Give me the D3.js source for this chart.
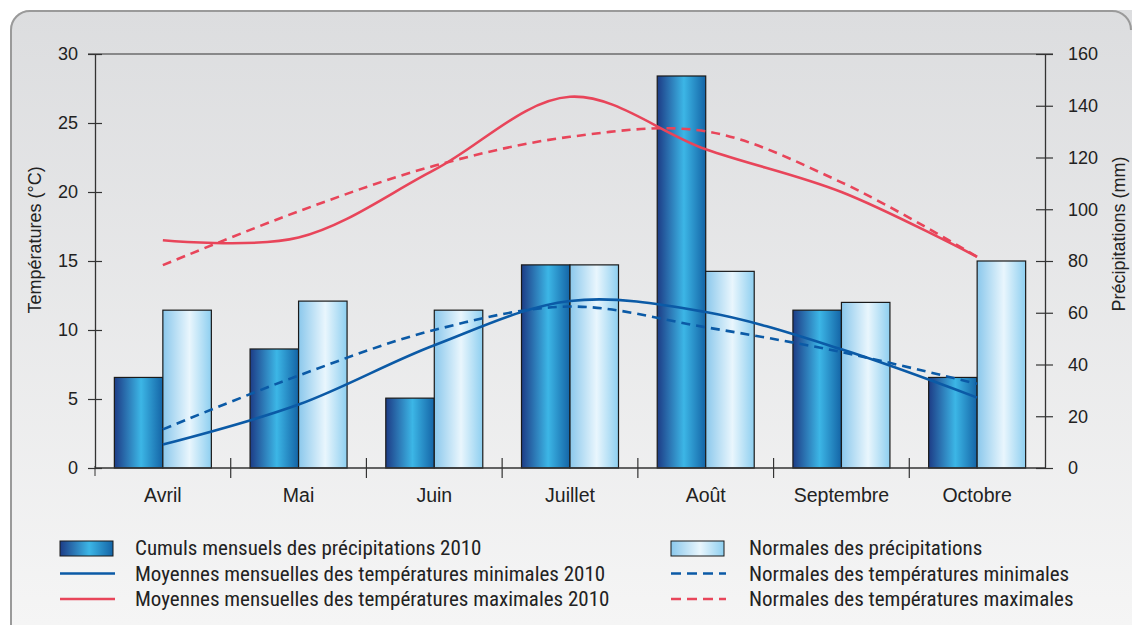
<!DOCTYPE html>
<html>
<head>
<meta charset="utf-8">
<script src="https://cdn.jsdelivr.net/npm/d3@7"></script>
<style>
  body { margin: 0; background: #fff; }
  svg { display: block; }
  text { font-family: "Liberation Sans", Arial, sans-serif; fill: #222; }
  .legend text { font-family: "Liberation Sans Narrow", "Roboto Condensed", "Liberation Sans", sans-serif; }
</style>
</head>
<body>
<svg id="chart" width="1132" height="625"></svg>
<script>
const months = ['Avril', 'Mai', 'Juin', 'Juillet', 'Août', 'Septembre', 'Octobre'];
const precip2010 = [35, 46, 27, 78.5, 151.5, 61, 35];
const precipNormal = [61, 64.5, 61, 78.5, 76, 64, 80];
const tMin2010 = [1.7, 4.6, 8.9, 12.1, 11.3, 8.6, 5.1];
const tMinNormal = [2.8, 6.7, 10.0, 11.7, 10.2, 8.4, 6.1];
const tMax2010 = [16.5, 16.7, 21.6, 26.9, 23.1, 20.0, 15.3];
const tMaxNormal = [14.7, 18.6, 21.9, 24.0, 24.4, 20.7, 15.3];
const tempTicks = [0, 5, 10, 15, 20, 25, 30];
const precipTicks = [0, 20, 40, 60, 80, 100, 120, 140, 160];

const svg = d3.select('#chart');
const width = +svg.attr('width');
const height = +svg.attr('height');

const blue = '#0b5aa6';
const red = '#e8455a';

const defs = svg.append('defs');
const bg = defs.append('linearGradient').attr('id', 'bg')
    .attr('x1', 0).attr('y1', 0).attr('x2', 0).attr('y2', 1);
bg.append('stop').attr('offset', '0%').attr('stop-color', '#dcdddf');
bg.append('stop').attr('offset', '100%').attr('stop-color', '#f5f5f5');

const dark = defs.append('linearGradient').attr('id', 'dark');
dark.append('stop').attr('offset', '0%').attr('stop-color', '#1d3c86');
dark.append('stop').attr('offset', '55%').attr('stop-color', '#3cb6e6');
dark.append('stop').attr('offset', '100%').attr('stop-color', '#1464a6');

const light = defs.append('linearGradient').attr('id', 'light');
light.append('stop').attr('offset', '0%').attr('stop-color', '#8bc8ec');
light.append('stop').attr('offset', '55%').attr('stop-color', '#e9f6fd');
light.append('stop').attr('offset', '100%').attr('stop-color', '#8ecff0');

// frame, open on the right and bottom like the reference
svg.append('path')
    .attr('d', 'M' + width + ',10H30A20,20 0 0 0 10,30V' + height + 'H' + width + 'Z')
    .attr('fill', 'url(#bg)');
svg.append('path')
    .attr('d', 'M11,' + height + 'V30A19,19 0 0 1 30,11H' + (width - 20) + 'A19,19 0 0 1 ' + (width - 1) + ',30')
    .attr('fill', 'none')
    .attr('stroke', '#9a9a9a').attr('stroke-width', 2);

const margin = {top: 54, right: 87, bottom: 157, left: 95};
const innerWidth = width - margin.left - margin.right;
const innerHeight = height - margin.top - margin.bottom;

const g = svg.append('g')
    .attr('transform', 'translate(' + margin.left + ',' + margin.top + ')');

const xScale = d3.scaleBand().domain(months).range([0, innerWidth]);
const tScale = d3.scaleLinear().domain([0, 30]).range([innerHeight, 0]);
const pScale = d3.scaleLinear().domain([0, 160]).range([innerHeight, 0]);

const barW = 48.5;
const cx = d => xScale(d) + xScale.bandwidth() / 2;

// top line
g.append('line')
    .attr('x1', -7).attr('x2', innerWidth + 8)
    .attr('y1', 0).attr('y2', 0)
    .attr('stroke', '#333').attr('stroke-width', 1.2);

// bars
const bars = g.append('g');
bars.selectAll('rect.dark')
    .data(months)
    .enter()
    .append('rect')
    .attr('x', d => cx(d) - barW)
    .attr('y', (d, i) => pScale(precip2010[i]))
    .attr('width', barW)
    .attr('height', (d, i) => innerHeight - pScale(precip2010[i]))
    .attr('fill', 'url(#dark)')
    .attr('stroke', '#1a1a1a').attr('stroke-width', 1.2);
bars.selectAll('rect.light')
    .data(months)
    .enter()
    .append('rect')
    .attr('x', d => cx(d))
    .attr('y', (d, i) => pScale(precipNormal[i]))
    .attr('width', barW)
    .attr('height', (d, i) => innerHeight - pScale(precipNormal[i]))
    .attr('fill', 'url(#light)')
    .attr('stroke', '#1a1a1a').attr('stroke-width', 1.2);

// temperature lines
const line = d3.line()
    .x((d, i) => cx(months[i]))
    .y(d => tScale(d))
    .curve(d3.curveCatmullRom.alpha(0.5));

const series = [
    {values: tMaxNormal, color: red, dash: '9,6'},
    {values: tMax2010, color: red, dash: null},
    {values: tMinNormal, color: blue, dash: '9,6'},
    {values: tMin2010, color: blue, dash: null}
];
series.forEach(s => {
    g.append('path')
        .datum(s.values)
        .attr('d', line)
        .attr('fill', 'none')
        .attr('stroke', s.color)
        .attr('stroke-width', 2.6)
        .attr('stroke-dasharray', s.dash);
});

// axes
const leftAxis = d3.axisLeft(tScale).tickValues(tempTicks).tickSizeInner(7).tickSizeOuter(0);
const rightAxis = d3.axisRight(pScale).tickValues(precipTicks).tickSizeInner(8).tickSizeOuter(0);
const bottomAxis = d3.axisBottom(xScale).tickSize(0).tickPadding(20);

const la = g.append('g').call(leftAxis);
la.selectAll('.tick line').attr('x1', 7).attr('x2', -7);
la.selectAll('.tick text').attr('x', -17);

const ra = g.append('g').attr('transform', 'translate(' + innerWidth + ',0)').call(rightAxis);
ra.selectAll('.tick line').attr('x1', -9).attr('x2', 8);
ra.selectAll('.tick text').attr('x', 23);

const ba = g.append('g').attr('transform', 'translate(0,' + innerHeight + ')').call(bottomAxis);
ba.select('.domain').attr('d', 'M0,0H' + innerWidth);
ba.selectAll('.tick').filter((d, i) => i > 0)
    .append('line')
    .attr('x1', -xScale.bandwidth() / 2).attr('x2', -xScale.bandwidth() / 2)
    .attr('y1', -10).attr('y2', 10)
    .attr('stroke', '#333');
ba.append('line').attr('x1', 0).attr('x2', 0).attr('y1', -2).attr('y2', 8).attr('stroke', '#333');

[la, ra, ba].forEach(a => {
    a.attr('font-family', null).attr('font-size', 18);
    a.select('.domain').attr('stroke', '#333').attr('stroke-width', 1.3);
    a.selectAll('.tick line').attr('stroke', '#333').attr('stroke-width', 1.2);
    a.selectAll('.tick text').attr('fill', '#222');
});
ba.attr('font-size', 19.5);

svg.append('text')
    .attr('transform', 'translate(41,240) rotate(-90)')
    .attr('text-anchor', 'middle')
    .attr('font-size', 18)
    .text('Températures (°C)');
svg.append('text')
    .attr('transform', 'translate(1125,234) rotate(-90)')
    .attr('text-anchor', 'middle')
    .attr('font-size', 18)
    .text('Précipitations (mm)');

// legend
const legendItems = [
    {label: 'Cumuls mensuels des précipitations 2010', type: 'bar', fill: 'url(#dark)', col: 0, row: 0},
    {label: 'Moyennes mensuelles des températures minimales 2010', type: 'line', color: blue, dash: null, col: 0, row: 1},
    {label: 'Moyennes mensuelles des températures maximales 2010', type: 'line', color: red, dash: null, col: 0, row: 2},
    {label: 'Normales des précipitations', type: 'bar', fill: 'url(#light)', col: 1, row: 0},
    {label: 'Normales des températures minimales', type: 'line', color: blue, dash: '10,6', col: 1, row: 1},
    {label: 'Normales des températures maximales', type: 'line', color: red, dash: '10,6', col: 1, row: 2}
];
const legend = svg.append('g').attr('class', 'legend');
const colX = [60, 671];
const textX = [135, 749];
legendItems.forEach(it => {
    const y = 548 + it.row * 25.5;
    if (it.type === 'bar') {
        legend.append('rect')
            .attr('x', colX[it.col]).attr('y', y - 7)
            .attr('width', 53).attr('height', 15)
            .attr('fill', it.fill)
            .attr('stroke', '#1a1a1a').attr('stroke-width', 1);
    } else {
        legend.append('line')
            .attr('x1', colX[it.col]).attr('x2', colX[it.col] + 55)
            .attr('y1', y).attr('y2', y)
            .attr('stroke', it.color).attr('stroke-width', 2.6)
            .attr('stroke-dasharray', it.dash);
    }
    legend.append('text')
        .attr('x', textX[it.col]).attr('y', y)
        .attr('dy', '0.35em')
        .attr('font-size', 21)
        .text(it.label);
});
</script>
</body>
</html>
